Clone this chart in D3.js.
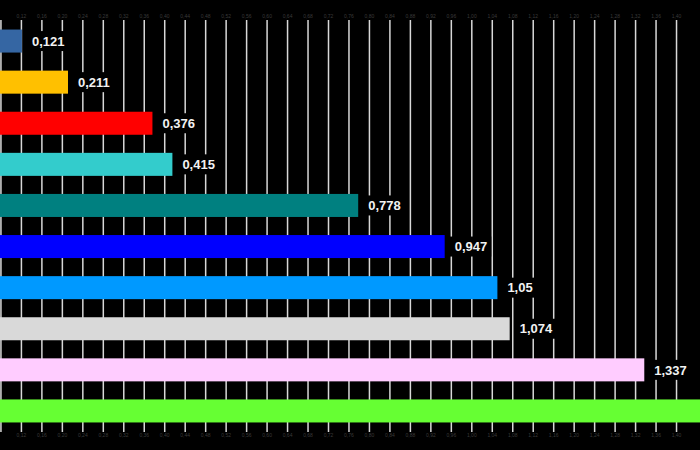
<!DOCTYPE html>
<html>
<head>
<meta charset="utf-8">
<script src="https://cdn.jsdelivr.net/npm/d3@7"></script>
<style>
  html, body { margin: 0; padding: 0; background: #000; }
  svg { display: block; }
</style>
</head>
<body>
<svg id="chart" width="700" height="450"></svg>
<script>
const categories = ["S1", "S2", "S3", "S4", "S5", "S6", "S7", "S8", "S9", "S10"];
const values = [0.121, 0.211, 0.376, 0.415, 0.778, 0.947, 1.05, 1.074, 1.337, 1.52];
const colors = ["#3566a3", "#ffc000", "#ff0000", "#33cccc", "#008080", "#0000ff", "#0099ff", "#d9d9d9", "#ffccff", "#66ff33"];
const tickValues = d3.range(0, 36).map(i => +(i * 0.04).toFixed(2));

const svg = d3.select("#chart");
const W = 700, H = 450;
svg.append("rect").attr("width", W).attr("height", H).attr("fill", "#000");

const x = d3.scaleLinear().domain([0, 1.44]).range([-40, 697]);
const y = d3.scaleBand().domain(categories).range([20.5, 431.5]).paddingInner(0.44).paddingOuter(0.22);

const loc = d3.formatLocale({decimal: ",", thousands: ".", grouping: [3], currency: ["", ""]});
const fmtTick = loc.format(".2f");
const fmtVal = v => String(v).replace(".", ",");

// grid lines
svg.append("g").selectAll("line").data(tickValues.filter(t => x(t) >= 0)).join("line")
  .attr("x1", d => x(d)).attr("x2", d => x(d))
  .attr("y1", 20).attr("y2", 432)
  .attr("stroke", "#d8d8d8").attr("stroke-width", 1.5);

// tiny tick labels top and bottom
const tl = tickValues.filter(t => x(t) >= 8 && x(t) <= W - 8);
[18, 437].forEach(yy => {
  svg.append("g").selectAll("text").data(tl).join("text")
    .attr("x", d => x(d)).attr("y", yy)
    .attr("text-anchor", "middle")
    .attr("font-family", "Liberation Sans, Arial, sans-serif")
    .attr("font-size", 5)
    .attr("fill", "#3a3a3a")
    .text(d => fmtTick(d));
});

// bars
svg.append("g").selectAll("rect").data(values).join("rect")
  .attr("x", x(0))
  .attr("y", (d, i) => y(categories[i]))
  .attr("width", d => x(d) - x(0))
  .attr("height", y.bandwidth())
  .attr("fill", (d, i) => colors[i]);

// labels (only those that fall inside the visible area)
const lg = svg.append("g");
values.forEach((v, i) => {
  const cx = x(v) + 10;
  if (cx > W - 10) return;
  const cy = y(categories[i]) + y.bandwidth() / 2;
  const g = lg.append("g");
  const box = g.append("rect").attr("fill", "#000");
  const t = g.append("text")
    .attr("x", cx).attr("y", cy)
    .attr("dy", "0.36em")
    .attr("font-family", "Liberation Sans, Arial, sans-serif")
    .attr("font-weight", "bold")
    .attr("font-size", 13)
    .attr("fill", "#f2f2f2")
    .text(fmtVal(v));
  const bb = t.node().getBBox();
  box.attr("x", bb.x - 5).attr("y", cy - 10).attr("width", bb.width + 9).attr("height", 20);
});
</script>
</body>
</html>
